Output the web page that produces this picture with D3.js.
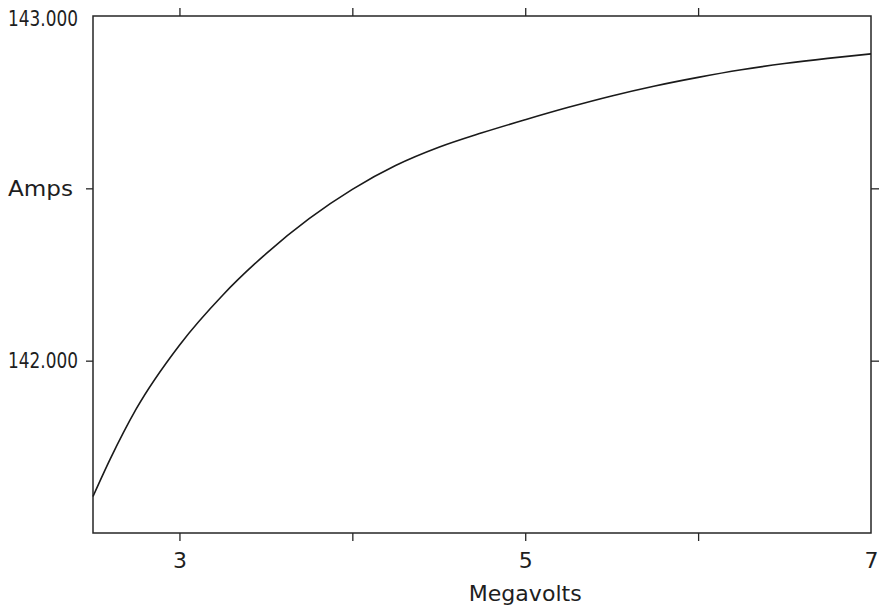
<!DOCTYPE html>
<html>
<head>
<meta charset="utf-8">
<script src="https://cdn.jsdelivr.net/npm/d3@7"></script>
<style>
  body { margin: 0; background: #fff; }
  text { font-family: "DejaVu Sans", sans-serif; fill: #1e1e1e; }
</style>
</head>
<body>
<div id="chart"></div>
<script>
// values
const megavolts = [2.5, 2.6, 2.75, 3.0, 3.25, 3.5, 3.75, 4.0, 4.25, 4.5, 4.75, 5.0, 5.25, 5.5, 5.75, 6.0, 6.25, 6.5, 6.75, 7.0];
const amps = [141.606, 141.715, 141.86, 142.045, 142.19, 142.31, 142.412, 142.497, 142.566, 142.619, 142.661, 142.699, 142.735, 142.768, 142.797, 142.822, 142.844, 142.862, 142.877, 142.89];

const xTicks = [3, 4, 5, 6, 7];
const xTickLabels = ["3", "", "5", "", "7"];
const yTicks = [142, 142.5, 143];
const yTickLabels = ["142.000", "Amps", "143.000"];
const xTitle = "Megavolts";

const margin = {top: 16, right: 12, bottom: 75, left: 93};
const width = 883 - margin.left - margin.right;
const height = 608 - margin.top - margin.bottom;

const svg = d3.select("#chart")
    .append("svg")
    .attr("width", 883)
    .attr("height", 608)
    .append("g")
    .attr("transform", "translate(" + margin.left + "," + margin.top + ")");

const x = d3.scaleLinear().domain([2.5, 7]).range([0, width]);
const y = d3.scaleLinear().domain([141.5, 143]).range([height, 0]);

const ink = "#262626";

//frame
svg.append("rect")
    .attr("width", width)
    .attr("height", height)
    .attr("fill", "none")
    .attr("stroke", ink)
    .attr("stroke-width", 1.5);

//bottom axis with labels
const xAxis = svg.append("g")
    .attr("transform", "translate(0," + height + ")")
    .call(d3.axisBottom(x).tickValues(xTicks).tickSize(8).tickPadding(11)
        .tickFormat((d, i) => xTickLabels[i]));
xAxis.select(".domain").remove();
xAxis.selectAll(".tick line").attr("stroke", ink).attr("stroke-width", 1.3)
    .filter(d => d === 7).remove();
xAxis.selectAll(".tick text").attr("font-size", 22).attr("font-family", "DejaVu Sans Condensed, DejaVu Sans, sans-serif");

//top axis, ticks only
const xTop = svg.append("g")
    .call(d3.axisTop(x).tickValues(xTicks.filter(d => d !== 7)).tickSize(8).tickFormat(""));
xTop.select(".domain").remove();
xTop.selectAll(".tick line").attr("stroke", ink).attr("stroke-width", 1.3);

//left axis with labels
const yAxis = svg.append("g")
    .call(d3.axisLeft(y).tickValues(yTicks).tickSize(7).tickPadding(8)
        .tickFormat((d, i) => yTickLabels[i]));
yAxis.select(".domain").remove();
yAxis.selectAll(".tick line").attr("stroke", ink).attr("stroke-width", 1.3)
    .filter(d => d === 143).remove();
yAxis.selectAll(".tick text")
    .attr("font-size", 22)
    .attr("textLength", (d, i) => yTickLabels[i] === "Amps" ? 65 : 70)
    .attr("lengthAdjust", "spacingAndGlyphs");
yAxis.selectAll(".tick").filter(d => d === 142.5).select("text").attr("x", -20);
yAxis.selectAll(".tick").filter(d => d === 143).select("text").attr("dy", "0.45em");

//right axis, ticks only
const yRight = svg.append("g")
    .attr("transform", "translate(" + width + ",0)")
    .call(d3.axisRight(y).tickValues([142, 142.5]).tickSize(8).tickFormat(""));
yRight.select(".domain").remove();
yRight.selectAll(".tick line").attr("stroke", ink).attr("stroke-width", 1.3);

//x title
svg.append("text")
    .attr("x", x(5))
    .attr("y", height + 68)
    .attr("text-anchor", "middle")
    .attr("font-size", 21)
    .attr("textLength", 113)
    .attr("lengthAdjust", "spacingAndGlyphs")
    .text(xTitle);

//the curve
const points = megavolts.map((v, i) => ({v: v, a: amps[i]}));
const line = d3.line()
    .x(d => x(d.v))
    .y(d => y(d.a))
    .curve(d3.curveMonotoneX);

svg.append("path")
    .datum(points)
    .attr("fill", "none")
    .attr("stroke", "#1a1a1a")
    .attr("stroke-width", 1.6)
    .attr("d", line);
</script>
</body>
</html>
